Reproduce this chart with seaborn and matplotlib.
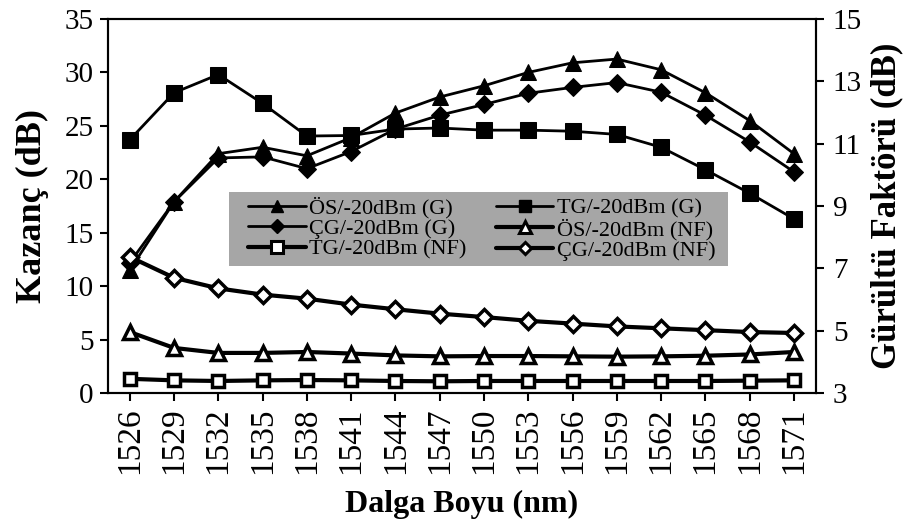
import matplotlib
matplotlib.use("Agg")
import matplotlib.pyplot as plt
import seaborn as sns
import numpy as np
import pandas as pd
from matplotlib.lines import Line2D
from matplotlib.patches import Rectangle

wavelengths = [1526, 1529, 1532, 1535, 1538, 1541, 1544, 1547, 1550, 1553, 1556, 1559, 1562, 1565, 1568, 1571]
os_gain = [11.5, 17.9, 22.4, 23.0, 22.2, 23.9, 26.2, 27.7, 28.75, 30.0, 30.9, 31.25, 30.25, 28.1, 25.5, 22.4]
tg_gain = [23.7, 28.1, 29.8, 27.1, 24.05, 24.1, 24.7, 24.8, 24.6, 24.6, 24.5, 24.2, 23.0, 20.9, 18.7, 16.3]
cg_gain = [12.2, 17.9, 22.0, 22.1, 21.0, 22.6, 24.7, 26.0, 27.0, 28.05, 28.6, 29.05, 28.15, 26.0, 23.5, 20.7]
os_nf = [4.96, 4.45, 4.29, 4.29, 4.32, 4.27, 4.21, 4.18, 4.19, 4.19, 4.18, 4.17, 4.18, 4.20, 4.24, 4.32]
tg_nf = [3.46, 3.41, 3.39, 3.41, 3.42, 3.41, 3.39, 3.38, 3.39, 3.39, 3.39, 3.39, 3.39, 3.39, 3.40, 3.41]
cg_nf = [7.37, 6.70, 6.36, 6.16, 6.03, 5.84, 5.69, 5.55, 5.44, 5.32, 5.23, 5.14, 5.08, 5.02, 4.96, 4.93]

labels = {
    "os_g": "ÖS/-20dBm (G)", "tg_g": "TG/-20dBm (G)", "cg_g": "ÇG/-20dBm (G)",
    "os_nf": "ÖS/-20dBm (NF)", "tg_nf": "TG/-20dBm (NF)", "cg_nf": "ÇG/-20dBm (NF)",
}

sns.set_theme(style="ticks")
plt.rcParams['font.family'] = ['Liberation Serif', 'DejaVu Serif']
for k in ("text.color", "axes.labelcolor", "xtick.color", "ytick.color", "axes.edgecolor"):
    plt.rcParams[k] = "black"

fig = plt.figure(figsize=(9.2, 5.27), dpi=100)
ax = fig.add_axes([0.117, 0.254, 0.770, 0.710])
ax2 = ax.twinx()

idx = np.arange(len(wavelengths))
df = pd.DataFrame({"i": idx, "os_g": os_gain, "tg_g": tg_gain, "cg_g": cg_gain,
                   "os_nf": os_nf, "tg_nf": tg_nf, "cg_nf": cg_nf})

gkw = dict(color="black", linewidth=2.0, markeredgecolor="black", markerfacecolor="black")
nkw = dict(color="black", linewidth=3.0, markeredgecolor="black", markerfacecolor="white", markeredgewidth=2.5)

sns.lineplot(data=df, x="i", y="os_g", ax=ax, marker="^", markersize=11, sort=False, **gkw)
sns.lineplot(data=df, x="i", y="tg_g", ax=ax, marker="s", markersize=11, sort=False, **gkw)
sns.lineplot(data=df, x="i", y="cg_g", ax=ax, marker="D", markersize=9, sort=False, **gkw)
sns.lineplot(data=df, x="i", y="os_nf", ax=ax2, marker="^", markersize=10, sort=False, **nkw)
sns.lineplot(data=df, x="i", y="tg_nf", ax=ax2, marker="s", markersize=9, sort=False, **nkw)
sns.lineplot(data=df, x="i", y="cg_nf", ax=ax2, marker="D", markersize=8, sort=False, **nkw)

ax.set_xlim(-0.5, len(wavelengths) - 0.5)
ax.set_ylim(0, 35)
ax.set_yticks(np.arange(0, 36, 5))
ax2.set_ylim(3, 15)
ax2.set_yticks(np.arange(3, 16, 2))
ax.set_xticks(idx)
ax.set_xticklabels([str(w) for w in wavelengths], rotation=90)

ax.tick_params(axis="x", labelsize=24, direction="out", length=6, width=1.5, pad=4)
ax.tick_params(axis="y", labelsize=21, direction="out", length=6, width=1.5, pad=4)
ax2.tick_params(axis="y", labelsize=21, direction="out", length=6, width=1.5, pad=6)
for a in (ax, ax2):
    for s in a.spines.values():
        s.set_linewidth(1.5)
        s.set_color("black")
        s.set_visible(True)

ax.set_xlabel("Dalga Boyu (nm)", fontsize=23, fontweight="bold", labelpad=12)
ax.set_ylabel("Kazanç (dB)", fontsize=26, fontweight="bold", labelpad=11)
ax2.set_ylabel("Gürültü Faktörü (dB)", fontsize=25, fontweight="bold", labelpad=6)

def mk(marker, ms, nf):
    if nf:
        return Line2D([], [], color="black", lw=3.0, marker=marker, markersize=ms,
                      markerfacecolor="white", markeredgecolor="black", markeredgewidth=2.2)
    return Line2D([], [], color="black", lw=2.0, marker=marker, markersize=ms,
                  markerfacecolor="black", markeredgecolor="black")

handles = [mk("^", 8, False), mk("D", 7, False), mk("s", 8, True),
           mk("s", 9, False), mk("^", 8, True), mk("D", 6, True)]
names = [labels["os_g"], labels["cg_g"], labels["tg_nf"],
         labels["tg_g"], labels["os_nf"], labels["cg_nf"]]

ax2.add_patch(Rectangle((0.172, 0.340), 0.704, 0.198, transform=ax2.transAxes,
                        facecolor="#a6a6a6", edgecolor="none", zorder=4))
leg = ax2.legend(handles, names, ncol=2, loc="center", mode="expand",
                 bbox_to_anchor=(0.198, 0.439, 0.66, 0.0), fontsize=16,
                 frameon=False, borderaxespad=0, handlelength=2.6, handletextpad=0.15,
                 labelspacing=0.0, borderpad=0.0, columnspacing=1.0)
leg.set_zorder(5)

fig.savefig("out.png", dpi=100)
